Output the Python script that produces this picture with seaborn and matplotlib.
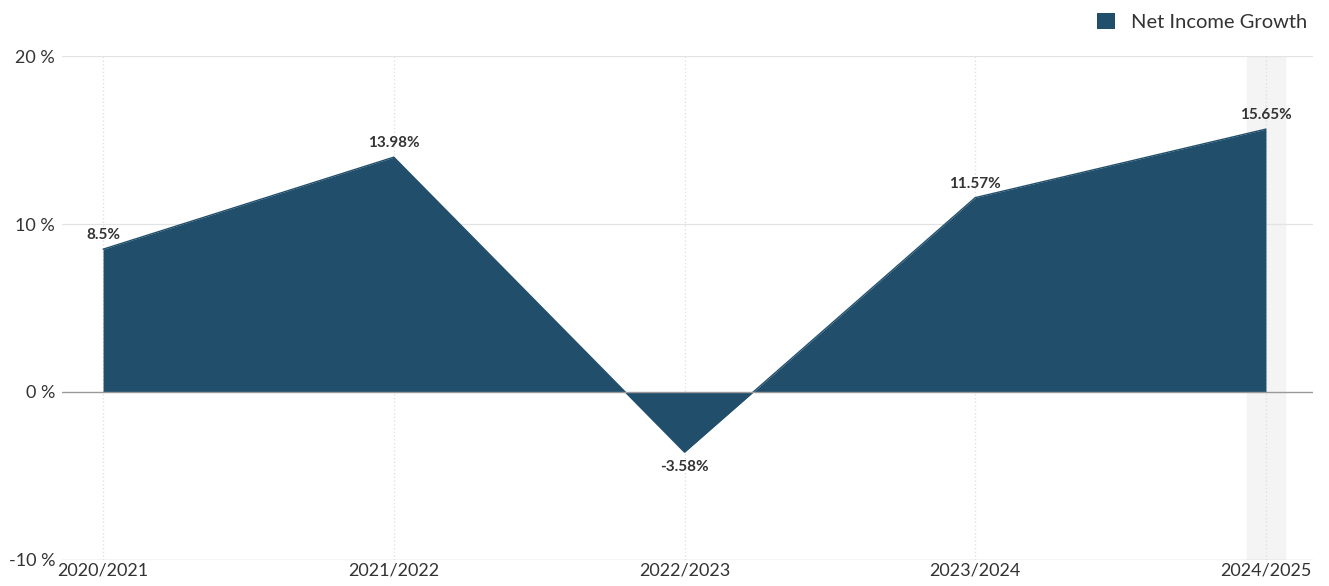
import matplotlib
matplotlib.use("Agg")
import matplotlib.pyplot as plt
from matplotlib.patches import Patch
import seaborn as sns
import pandas as pd

periods = ["2020/2021", "2021/2022", "2022/2023", "2023/2024", "2024/2025"]
growth = [8.5, 13.98, -3.58, 11.57, 15.65]
value_labels = ["8.5%", "13.98%", "-3.58%", "11.57%", "15.65%"]
y_ticks = [-10, 0, 10, 20]
series_name = "Net Income Growth"

fill_color = "#214f6b"
text_color = "#333333"

sns.set_theme(style="white")
plt.rcParams["font.family"] = ["Lato", "DejaVu Sans"]

df = pd.DataFrame({"x": range(len(periods)), "growth": growth})

fig = plt.figure(figsize=(13.29, 5.86), dpi=100)
ax = fig.add_axes([0.0467, 0.0444, 0.9413, 0.86])

# highlight band behind the latest period
ax.axvspan(len(periods) - 1 - 0.065, len(periods) - 1 + 0.065, color="#f4f4f4", zorder=0)

# vertical dotted guides at each period
for i in range(len(periods)):
    ax.axvline(i, color="#dddddd", lw=0.9, ls=(0, (1, 2)), zorder=1)

# horizontal grid
for t in y_ticks:
    if t == 0:
        ax.axhline(t, color="#999999", lw=1.0, zorder=3)
    elif t == y_ticks[0]:
        ax.axhline(t, color="#cccccc", lw=1.0, zorder=3)
    else:
        ax.axhline(t, color="#e3e3e3", lw=0.9, zorder=1)

ax.fill_between(df["x"], df["growth"], 0, color=fill_color, lw=0, zorder=2)
sns.lineplot(data=df, x="x", y="growth", color=fill_color, lw=1, ax=ax, zorder=2)

for i, (v, lab) in enumerate(zip(growth, value_labels)):
    if v >= 0:
        ax.annotate(lab, (i, v), xytext=(0, 5), textcoords="offset points",
                    ha="center", va="bottom", fontsize=11, fontweight="bold", color=text_color)
    else:
        ax.annotate(lab, (i, v), xytext=(0, -6), textcoords="offset points",
                    ha="center", va="top", fontsize=11, fontweight="bold", color=text_color)

ax.set_xlim(-0.141, len(periods) - 1 + 0.162)
ax.set_ylim(-10, 20)
ax.set_xticks(range(len(periods)))
ax.set_xticklabels(periods, fontsize=13, color=text_color)
ax.set_yticks(y_ticks)
ax.set_yticklabels([f"{t} %" for t in y_ticks], fontsize=13, color=text_color)
ax.tick_params(axis="x", direction="in", length=5, width=1, color=text_color, pad=2)
ax.tick_params(axis="y", length=0, pad=5)
ax.set_xlabel("")
ax.set_ylabel("")
for s in ax.spines.values():
    s.set_visible(False)

handle = Patch(facecolor=fill_color, edgecolor="none")
fig.legend([handle], [series_name], loc="upper right", bbox_to_anchor=(0.997, 1.008),
           frameon=False, fontsize=14.5, handlelength=0.85, handleheight=0.85,
           handletextpad=0.8, labelcolor=text_color)

fig.savefig("out.png", dpi=100)
